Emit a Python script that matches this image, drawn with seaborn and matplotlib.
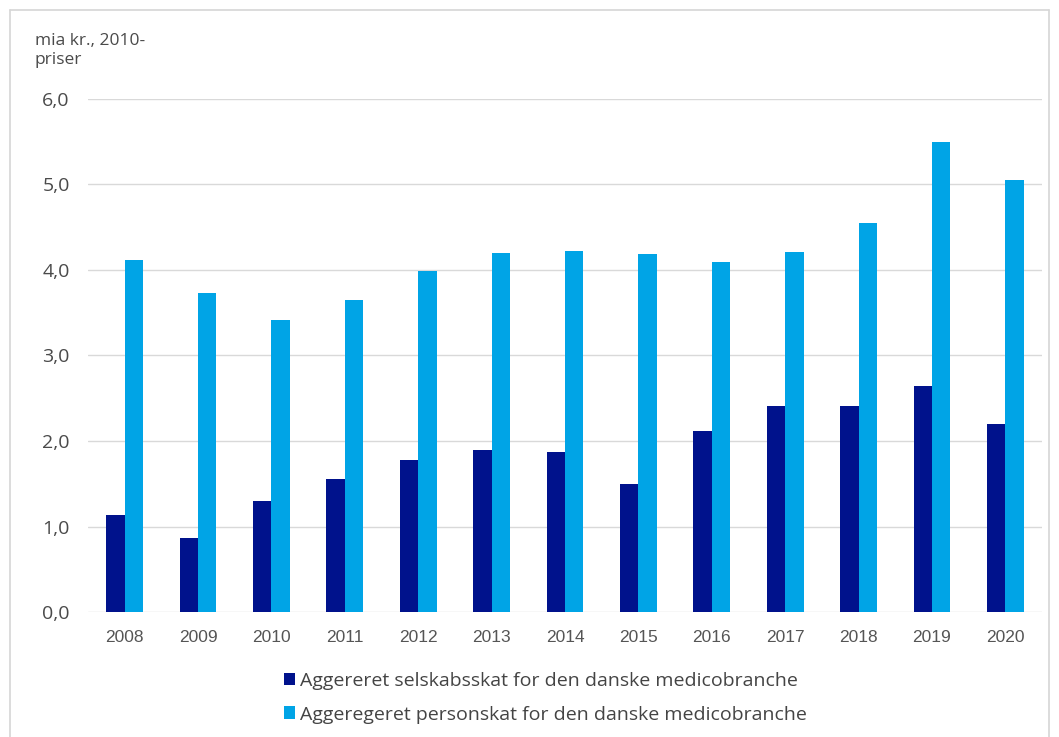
import pandas as pd
import seaborn as sns
import matplotlib.pyplot as plt
from matplotlib.patches import Patch
from matplotlib.lines import Line2D

# Data (mia kr., 2010-priser)
years = ['2008', '2009', '2010', '2011', '2012', '2013', '2014',
         '2015', '2016', '2017', '2018', '2019', '2020']
selskabsskat = [1.13, 0.87, 1.30, 1.56, 1.78, 1.89, 1.87,
                1.50, 2.12, 2.41, 2.41, 2.64, 2.20]
personskat = [4.12, 3.73, 3.42, 3.65, 3.99, 4.20, 4.22,
              4.19, 4.09, 4.21, 4.55, 5.50, 5.05]
series_names = ['Aggereret selskabsskat for den danske medicobranche',
                'Aggeregeret personskat for den danske medicobranche']
colors = ['#00128c', '#00a4e6']

df = pd.DataFrame({
    'year': years * 2,
    'value': selskabsskat + personskat,
    'serie': [series_names[0]] * len(years) + [series_names[1]] * len(years),
})

sns.set_theme(style='white')
plt.rcParams['font.family'] = ['Open Sans', 'DejaVu Sans']

fig = plt.figure(figsize=(10.59, 7.37), dpi=100)
ax = fig.add_axes([0.083, 0.1696, 0.901, 0.6961])

sns.barplot(data=df, x='year', y='value', hue='serie', palette=colors,
            width=0.5, saturation=1, linewidth=0, ax=ax, legend=False, zorder=3)

ax.set_ylim(0, 6)
ax.set_xlim(-0.5, 12.5)
ax.set_yticks([0, 1, 2, 3, 4, 5, 6])
ax.set_yticklabels([f'{v:.1f}'.replace('.', ',') for v in range(7)])
ax.yaxis.grid(True, color='#d9d9d9', linewidth=1, zorder=0)
ax.set_axisbelow(True)
for s in ax.spines.values():
    s.set_visible(False)
ax.tick_params(axis='y', length=0, pad=13, labelsize=14, labelcolor='#4a4a4a')
ax.tick_params(axis='x', length=0, pad=13, labelsize=12.5, labelcolor='#555555')
for lbl in ax.get_xticklabels():
    lbl.set_family(['Liberation Sans', 'DejaVu Sans'])
ax.set_xlabel('')
ax.set_ylabel('')

fig.text(0.033, 0.955, 'mia kr., 2010-\npriser', ha='left', va='top',
         fontsize=12.5, color='#4a4a4a', linespacing=1.25)

handles = [Patch(facecolor=c, edgecolor='none') for c in colors]
fig.legend(handles, series_names, loc='upper center', bbox_to_anchor=(0.515, 0.112),
           ncol=1, frameon=False, fontsize=14, labelcolor='#444444',
           handlelength=0.6, handleheight=0.6, handletextpad=0.25, labelspacing=0.8)

# tynd ramme rundt om figuren
frame_kw = dict(color='#d6d6d6', linewidth=1.2, transform=fig.transFigure)
fig.add_artist(Line2D([0.0095, 0.0095], [0.0, 0.986], **frame_kw))
fig.add_artist(Line2D([0.0095, 0.991], [0.986, 0.986], **frame_kw))
fig.add_artist(Line2D([0.991, 0.991], [0.0, 0.986], **frame_kw))

fig.savefig('out.png', dpi=100)
